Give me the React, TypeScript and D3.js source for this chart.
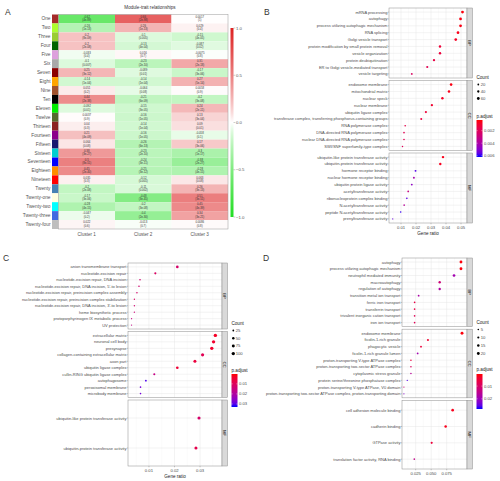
import React from 'react';
import * as d3 from 'd3';

const FONT = 'Liberation Sans, Arial, Helvetica, sans-serif';

// ---- A: module-trait heatmap ----
const modules = ['One', 'Two', 'Three', 'Four', 'Five', 'Six', 'Seven', 'Eight', 'Nine', 'Ten', 'Eleven', 'Twelve',
  'Thirteen', 'Fourteen', 'Fifteen', 'Sixteen', 'Seventeen', 'Eighteen', 'Nineteen', 'Twenty', 'Twenty-one',
  'Twenty-two', 'Twenty-three', 'Twenty-four'];
const moduleColors = ['#a52a2a', '#adff2f', '#9acd32', '#006400', '#dda0dd', '#a9a9a9', '#8b0000', '#ffa500',
  '#a0522d', '#000000', '#00ee00', '#556b2f', '#8b2323', '#8b008b', '#191970', '#00ced1', '#0000ff', '#ff8c00',
  '#ff0000', '#4682b4', '#ffffe0', '#00ffff', '#4169e1', '#bebebe'];
const clusters = ['Cluster 1', 'Cluster 2', 'Cluster 3'];
const corCluster1 = [-0.62, -0.26, 0.2, 0.2, -0.033, -0.1, 0.25, -0.14, 0.051, 0.44, -0.092, 0.0037, 0.04, 0.21,
  0.064, 0.38, 0.5, 0.45, 0.035, -0.2, -0.17, -0.28, -0.047, 0.022];
const corCluster2 = [0.66, 0.26, -0.1, -0.13, 0.016, -0.23, -0.089, -0.14, -0.064, -0.21, -0.15, -0.16, -0.14, -0.16,
  -0.26, -0.23, -0.24, -0.25, -0.12, -0.11, -0.48, -0.2, -0.4, -0.013];
const corCluster3 = [0.0017, 0.029, -0.15, -0.087, -0.0075, 0.31, -0.17, 0.27, 0.0058, -0.2, 0.24, 0.13, 0.09, -0.058,
  0.17, -0.3, -0.38, -0.28, 0.063, 0.26, 0.51, 0.45, 0.34, 0.0086];
const pCluster1 = ['(4e-89)', '(1e-13)', '(8e-09)', '(2e-08)', '(0.4)', '(0.007)', '(3e-12)', '(1e-04)', '(0.2)',
  '(2e-38)', '(0.01)', '(0.9)', '(0.3)', '(4e-09)', '(0.08)', '(3e-27)', '(8e-51)', '(2e-40)', '(0.3)', '(2e-08)',
  '(3e-06)', '(4e-15)', '(0.2)', '(0.6)'];
const pCluster2 = ['(2e-98)', '(1e-13)', '(0.005)', '(4e-04)', '(0.7)', '(2e-10)', '(0.01)', '(1e-04)', '(0.08)',
  '(6e-09)', '(3e-05)', '(1e-05)', '(1e-04)', '(1e-05)', '(6e-13)', '(2e-10)', '(3e-11)', '(3e-12)', '(0.001)',
  '(0.002)', '(3e-45)', '(3e-08)', '(2e-30)', '(0.7)'];
const pCluster3 = ['(1)', '(0.4)', '(4e-05)', '(0.02)', '(0.8)', '(2e-18)', '(3e-06)', '(5e-14)', '(0.9)', '(3e-08)',
  '(2e-11)', '(3e-04)', '(0.01)', '(0.1)', '(3e-06)', '(1e-17)', '(2e-27)', '(4e-15)', '(0.08)', '(3e-13)', '(3e-51)',
  '(4e-39)', '(3e-21)', '(0.8)'];
const heatTicks = [1, 0.5, 0, -0.5, -1];

// ---- B: GO enrichment ----
const bpTermsB = ['mRNA processing', 'autophagy', 'process utilizing autophagic mechanism', 'RNA splicing',
  'Golgi vesicle transport', 'protein modification by small protein removal', 'vesicle organization',
  'protein deubiquitination', 'ER to Golgi vesicle-mediated transport', 'vesicle targeting'];
const bpRatioB = [0.051, 0.0497, 0.0497, 0.048, 0.0465, 0.036, 0.036, 0.032, 0.0275, 0.0172];
const bpCountB = [62, 60, 60, 58, 56, 44, 44, 39, 33, 21];
const bpPadjB = [0.0004, 0.0005, 0.0005, 0.0006, 0.0008, 0.0012, 0.0013, 0.0015, 0.0018, 0.0022];
const ccTermsB = ['endosome membrane', 'mitochondrial matrix', 'nuclear speck', 'nuclear membrane',
  'ubiquitin ligase complex', 'transferase complex, transferring phosphorus-containing groups',
  'RNA polymerase complex', 'DNA-directed RNA polymerase complex', 'nuclear DNA-directed RNA polymerase complex',
  'SWI/SNF superfamily-type complex'];
const ccRatioB = [0.0434, 0.042, 0.0376, 0.0306, 0.0266, 0.0235, 0.0128, 0.012, 0.012, 0.011];
const ccCountB = [53, 51, 46, 37, 32, 29, 16, 15, 15, 13];
const ccPadjB = [0.0005, 0.0006, 0.0008, 0.001, 0.0012, 0.0014, 0.0016, 0.0018, 0.0018, 0.002];
const mfTermsB = ['ubiquitin-like protein transferase activity', 'ubiquitin-protein transferase activity',
  'hormone receptor binding', 'nuclear hormone receptor binding', 'ubiquitin protein ligase activity',
  'acetyltransferase activity', 'ribonucleoprotein complex binding', 'N-acetyltransferase activity',
  'peptide N-acetyltransferase activity', 'prenyltransferase activity'];
const mfRatioB = [0.038, 0.0362, 0.0197, 0.0186, 0.0172, 0.0148, 0.0139, 0.0121, 0.0098, 0.0045];
const mfCountB = [46, 44, 24, 23, 21, 18, 17, 15, 12, 5];
const mfPadjB = [0.0006, 0.0007, 0.0058, 0.0042, 0.0048, 0.003, 0.0056, 0.0036, 0.006, 0.0055];
const ticksB = [0.01, 0.02, 0.03, 0.04, 0.05];
const countLegendB = [20, 40, 60];
const padjLegendB = [0.002, 0.004, 0.006];

// ---- C ----
const bpTermsC = ['anion transmembrane transport', 'nucleotide-excision repair',
  'nucleotide-excision repair, DNA incision', "nucleotide-excision repair, DNA incision, 5'-to lesion",
  'nucleotide-excision repair, preincision complex assembly',
  'nucleotide-excision repair, preincision complex stabilization',
  "nucleotide-excision repair, DNA incision, 3'-to lesion", 'heme biosynthetic process',
  'protoporphyrinogen IX metabolic process', 'UV protection'];
const bpRatioC = [0.0211, 0.0125, 0.0065, 0.0061, 0.0053, 0.0043, 0.0043, 0.0043, 0.0032, 0.0032];
const bpCountC = [59, 35, 18, 17, 15, 12, 12, 12, 9, 9];
const bpPadjC = [0.012, 0.011, 0.013, 0.013, 0.012, 0.011, 0.013, 0.014, 0.016, 0.016];
const ccTermsC = ['extracellular matrix', 'neuronal cell body', 'presynapse', 'collagen-containing extracellular matrix',
  'axon part', 'ubiquitin ligase complex', 'cullin-RING ubiquitin ligase complex', 'autophagosome',
  'peroxisomal membrane', 'microbody membrane'];
const ccRatioC = [0.036, 0.0353, 0.0346, 0.031, 0.028, 0.0211, 0.0121, 0.0088, 0.0067, 0.0067];
const ccCountC = [101, 99, 97, 87, 78, 59, 34, 25, 19, 19];
const ccPadjC = [0.003, 0.004, 0.004, 0.009, 0.006, 0.005, 0.016, 0.031, 0.028, 0.028];
const mfTermsC = ['ubiquitin-like protein transferase activity', 'ubiquitin-protein transferase activity'];
const mfRatioC = [0.0296, 0.0284];
const mfCountC = [83, 80];
const mfPadjC = [0.012, 0.008];
const ticksC = [0.01, 0.02, 0.03];
const countLegendC = [25, 50, 75, 100];
const padjLegendC = [0.01, 0.02, 0.03];

// ---- D ----
const bpTermsD = ['autophagy', 'process utilizing autophagic mechanism', 'neutrophil mediated immunity',
  'macroautophagy', 'regulation of autophagy', 'transition metal ion transport', 'ferric iron transport',
  'transferrin transport', 'trivalent inorganic cation transport', 'iron ion transport'];
const bpRatioD = [0.098, 0.098, 0.0868, 0.0637, 0.0637, 0.0298, 0.0233, 0.0233, 0.0233, 0.0233];
const bpCountD = [20, 20, 18, 13, 13, 6, 5, 5, 5, 5];
const bpPadjD = [0.001, 0.001, 0.019, 0.012, 0.017, 0.018, 0.006, 0.006, 0.008, 0.008];
const ccTermsD = ['endosome membrane', 'ficolin-1-rich granule', 'phagocytic vesicle', 'ficolin-1-rich granule lumen',
  'proton-transporting V-type ATPase complex', 'proton-transporting two-sector ATPase complex',
  'cytoplasmic stress granule', 'protein serine/threonine phosphatase complex',
  'proton-transporting V-type ATPase, V0 domain',
  'proton-transporting two-sector ATPase complex, proton-transporting domain'];
const ccRatioD = [0.0997, 0.0448, 0.0336, 0.0282, 0.0174, 0.0174, 0.0174, 0.0115, 0.0061, 0.0061];
const ccCountD = [21, 9, 7, 6, 4, 4, 4, 3, 2, 2];
const ccPadjD = [0.001, 0.004, 0.005, 0.019, 0.005, 0.009, 0.016, 0.026, 0.012, 0.022];
const mfTermsD = ['cell adhesion molecule binding', 'cadherin binding', 'GTPase activity',
  'translation factor activity, RNA binding'];
const mfRatioD = [0.0846, 0.0733, 0.0508, 0.0228];
const mfCountD = [17, 15, 10, 5];
const mfPadjD = [0.002, 0.002, 0.005, 0.014];
const ticksD = [0.025, 0.05, 0.075];
const countLegendD = [5, 10, 15, 20];
const padjLegendD = [0.01, 0.02];

type Facet = { name: string; terms: string[]; ratio: number[]; count: number[]; padj: number[] };

const facetsB: Facet[] = [
  { name: 'BP', terms: bpTermsB, ratio: bpRatioB, count: bpCountB, padj: bpPadjB },
  { name: 'CC', terms: ccTermsB, ratio: ccRatioB, count: ccCountB, padj: ccPadjB },
  { name: 'MF', terms: mfTermsB, ratio: mfRatioB, count: mfCountB, padj: mfPadjB },
];
const facetsC: Facet[] = [
  { name: 'BP', terms: bpTermsC, ratio: bpRatioC, count: bpCountC, padj: bpPadjC },
  { name: 'CC', terms: ccTermsC, ratio: ccRatioC, count: ccCountC, padj: ccPadjC },
  { name: 'MF', terms: mfTermsC, ratio: mfRatioC, count: mfCountC, padj: mfPadjC },
];
const facetsD: Facet[] = [
  { name: 'BP', terms: bpTermsD, ratio: bpRatioD, count: bpCountD, padj: bpPadjD },
  { name: 'CC', terms: ccTermsD, ratio: ccRatioD, count: ccCountD, padj: ccPadjD },
  { name: 'MF', terms: mfTermsD, ratio: mfRatioD, count: mfCountD, padj: mfPadjD },
];

function Heatmap() {
  const x0 = 52, sw = 6.5, left = x0 + sw, right = 228, top = 14.5, bottom = 229;
  const cors = [corCluster1, corCluster2, corCluster3];
  const pvals = [pCluster1, pCluster2, pCluster3];
  const xs = d3.scaleBand().domain(clusters).range([left, right]);
  const ys = d3.scaleBand().domain(modules).range([top, bottom]);
  const color = d3.scaleDivergingPow(d3.piecewise(d3.interpolateRgb, ['#22dd22', '#ffffff', '#dd2222']))
    .exponent(0.8).domain([-1, 0, 1]);
  const barY = d3.scaleLinear().domain([1, -1]).range([28, 217]);

  return (
    <g>
      <text x={150} y={8.5} fontSize={4.6} textAnchor='middle' fill='#333'>Module-trait relationships</text>
      {modules.map((m, i) => (
        <g key={m}>
          <rect x={x0} y={ys(m)} width={sw} height={ys.bandwidth()} fill={moduleColors[i]} />
          <text x={x0 - 1.5} y={ys(m)! + ys.bandwidth() / 2} fontSize={4.8} textAnchor='end'
            dominantBaseline='central' fill='#555'>{m}</text>
          {clusters.map((c, j) => (
            <g key={c}>
              <rect x={xs(c)} y={ys(m)} width={xs.bandwidth()} height={ys.bandwidth()} fill={color(cors[j][i])} />
              <text x={xs(c)! + xs.bandwidth() / 2} y={ys(m)! + 3.3} fontSize={2.8} textAnchor='middle'
                fill='#333'>{cors[j][i]}</text>
              <text x={xs(c)! + xs.bandwidth() / 2} y={ys(m)! + 6.9} fontSize={2.8} textAnchor='middle'
                fill='#333'>{pvals[j][i]}</text>
            </g>
          ))}
        </g>
      ))}
      <rect x={left} y={top} width={right - left} height={bottom - top} fill='none' stroke='#999' strokeWidth={0.5} />
      {clusters.map(c => (
        <text key={c} x={xs(c)! + xs.bandwidth() / 2} y={236} fontSize={4.6} textAnchor='middle' fill='#555'>{c}</text>
      ))}
      <defs>
        <linearGradient id='heat-bar' x1='0' y1='0' x2='0' y2='1'>
          {d3.range(0, 1.0001, 0.05).map(t => (
            <stop key={t} offset={t} stopColor={color(1 - 2 * t)} />
          ))}
        </linearGradient>
      </defs>
      <rect x={230.5} y={barY(1)} width={3} height={barY(-1) - barY(1)} fill='url(#heat-bar)' />
      {heatTicks.map(v => (
        <g key={v}>
          <line x1={233.5} x2={235.3} y1={barY(v)} y2={barY(v)} stroke='#555' strokeWidth={0.3} />
          <text x={236} y={barY(v)} fontSize={4.3} dominantBaseline='central' fill='#555'>{d3.format('.1f')(v)}</text>
        </g>
      ))}
    </g>
  );
}

type DotCfg = {
  id: string; left: number; right: number; top: number; bottom: number; gap: number;
  xDomain: [number, number]; ticks: number[]; fmt: string; facets: Facet[];
  padjDomain: [number, number]; padjTicks: number[]; sizeDomain: [number, number]; sizeRange: [number, number];
  countTicks: number[]; lx: number; countY: number; countStep: number; padjY: number; barTop: number;
  barBottom: number; showTitle: boolean;
};

function DotPanel({ cfg }: { cfg: DotCfg }) {
  const { left, right, top, bottom, gap, facets } = cfg;
  const x = d3.scaleLinear().domain(cfg.xDomain).range([left, right]);
  const color = d3.scaleSequential(d3.interpolateLab('#ff0000', '#0000ff')).domain(cfg.padjDomain);
  const r = d3.scaleSqrt().domain(cfg.sizeDomain).range(cfg.sizeRange);
  const fh = (bottom - top - gap * (facets.length - 1)) / facets.length;
  const step = cfg.ticks[1] - cfg.ticks[0];
  const minor = d3.range(cfg.ticks[0] - step / 2, cfg.xDomain[1], step).filter(v => v > cfg.xDomain[0]);
  const barY = d3.scaleLinear().domain(cfg.padjDomain).range([cfg.barTop, cfg.barBottom]);
  const fmt = d3.format(cfg.fmt);

  return (
    <g>
      {facets.map((f, fi) => {
        const y0 = top + fi * (fh + gap);
        const y = d3.scalePoint().domain(f.terms).range([y0, y0 + fh]).padding(0.6);
        return (
          <g key={f.name}>
            <rect x={left} y={y0} width={right - left} height={fh} fill='#fff' />
            {minor.map(v => (
              <line key={'m' + v} x1={x(v)} x2={x(v)} y1={y0} y2={y0 + fh} stroke='#f2f2f2' strokeWidth={0.3} />
            ))}
            {cfg.ticks.map(v => (
              <line key={'t' + v} x1={x(v)} x2={x(v)} y1={y0} y2={y0 + fh} stroke='#e4e4e4' strokeWidth={0.45} />
            ))}
            {f.terms.map(t => (
              <line key={'h' + t} x1={left} x2={right} y1={y(t)} y2={y(t)} stroke='#e4e4e4' strokeWidth={0.45} />
            ))}
            {f.terms.map((t, i) => (
              <circle key={'c' + t} cx={x(f.ratio[i])} cy={y(t)} r={r(f.count[i])} fill={color(f.padj[i])} />
            ))}
            <rect x={left} y={y0} width={right - left} height={fh} fill='none' stroke='#8c8c8c' strokeWidth={0.5} />
            <rect x={right} y={y0} width={5.5} height={fh} fill='#d9d9d9' stroke='#8c8c8c' strokeWidth={0.5} />
            <text transform={`translate(${right + 2.75},${y0 + fh / 2}) rotate(90)`} fontSize={4.3}
              textAnchor='middle' dominantBaseline='central' fill='#1a1a1a'>{f.name}</text>
            {f.terms.map(t => (
              <g key={'l' + t}>
                <line x1={left - 1.2} x2={left} y1={y(t)} y2={y(t)} stroke='#555' strokeWidth={0.3} />
                <text x={left - 1.6} y={y(t)} fontSize={4} textAnchor='end' dominantBaseline='central'
                  fill='#4d4d4d'>{t}</text>
              </g>
            ))}
          </g>
        );
      })}
      {cfg.ticks.map(v => (
        <g key={'x' + v}>
          <line x1={x(v)} x2={x(v)} y1={bottom} y2={bottom + 1.3} stroke='#555' strokeWidth={0.3} />
          <text x={x(v)} y={bottom + 5.6} fontSize={4.2} textAnchor='middle' fill='#4d4d4d'>{fmt(v)}</text>
        </g>
      ))}
      {cfg.showTitle && (
        <text x={(left + right) / 2} y={bottom + 12} fontSize={4.6} textAnchor='middle' fill='#1a1a1a'>Gene ratio</text>
      )}

      <text x={cfg.lx} y={cfg.countY} fontSize={4.6} fill='#1a1a1a'>Count</text>
      {cfg.countTicks.map((c, i) => {
        const cy = cfg.countY + 5.5 + i * cfg.countStep;
        return (
          <g key={'n' + c}>
            <circle cx={cfg.lx + 1.8} cy={cy} r={r(c)} fill='#000' />
            <text x={cfg.lx + 4.2} y={cy} fontSize={4.2} dominantBaseline='central' fill='#4d4d4d'>{c}</text>
          </g>
        );
      })}

      <text x={cfg.lx} y={cfg.padjY} fontSize={4.6} fill='#1a1a1a'>p.adjust</text>
      <defs>
        <linearGradient id={cfg.id + '-bar'} x1='0' y1='0' x2='0' y2='1'>
          {d3.range(0, 1.0001, 0.1).map(t => (
            <stop key={t} offset={t} stopColor={color(cfg.padjDomain[0] + t * (cfg.padjDomain[1] - cfg.padjDomain[0]))} />
          ))}
        </linearGradient>
      </defs>
      <rect x={cfg.lx} y={cfg.barTop} width={6} height={cfg.barBottom - cfg.barTop} fill={`url(#${cfg.id}-bar)`} />
      {cfg.padjTicks.map(v => (
        <g key={'p' + v}>
          <line x1={cfg.lx} x2={cfg.lx + 1.2} y1={barY(v)} y2={barY(v)} stroke='#fff' strokeWidth={0.4} />
          <line x1={cfg.lx + 4.8} x2={cfg.lx + 6} y1={barY(v)} y2={barY(v)} stroke='#fff' strokeWidth={0.4} />
          <text x={cfg.lx + 7.5} y={barY(v)} fontSize={4.2} dominantBaseline='central' fill='#4d4d4d'>{v}</text>
        </g>
      ))}
    </g>
  );
}

const cfgB: DotCfg = {
  id: 'b', left: 389, right: 467, top: 8, bottom: 223, gap: 2.5, xDomain: [0.002, 0.054], ticks: ticksB, fmt: '.2f',
  facets: facetsB, padjDomain: [0.0003, 0.0062], padjTicks: padjLegendB, sizeDomain: [5, 62], sizeRange: [0.55, 1.4],
  countTicks: countLegendB, lx: 476.5, countY: 79, countStep: 7, padjY: 118, barTop: 120, barBottom: 157, showTitle: true,
};
const cfgC: DotCfg = {
  id: 'c', left: 128, right: 222, top: 263, bottom: 466, gap: 2.5, xDomain: [0.0018, 0.0386], ticks: ticksC, fmt: '.2f',
  facets: facetsC, padjDomain: [0.0002, 0.033], padjTicks: padjLegendC, sizeDomain: [9, 101], sizeRange: [0.6, 1.7],
  countTicks: countLegendC, lx: 231.5, countY: 325, countStep: 7.7, padjY: 372, barTop: 374, barBottom: 407,
  showTitle: true,
};
// panel D's axis title falls below the bottom edge of the figure
const cfgD: DotCfg = {
  id: 'd', left: 402, right: 467, top: 258, bottom: 469, gap: 2.5, xDomain: [0.003, 0.1077], ticks: ticksD, fmt: '.3f',
  facets: facetsD, padjDomain: [0.0005, 0.028], padjTicks: padjLegendD, sizeDomain: [2, 21], sizeRange: [0.6, 1.45],
  countTicks: countLegendD, lx: 476.5, countY: 324, countStep: 8, padjY: 371, barTop: 374, barBottom: 409,
  showTitle: false,
};

export default function App() {
  return (
    <svg width={500} height={481} viewBox='0 0 500 481' fontFamily={FONT}
      style={{ position: 'absolute', left: 0, top: 0, background: '#fff' }}>
      <rect width={500} height={481} fill='#fff' />
      <text x={5} y={15} fontSize={8.5} fill='#333'>A</text>
      <text x={264} y={14.5} fontSize={8.5} fill='#333'>B</text>
      <text x={3} y={261} fontSize={8.5} fill='#333'>C</text>
      <text x={263} y={261} fontSize={8.5} fill='#333'>D</text>
      <Heatmap />
      <DotPanel cfg={cfgB} />
      <DotPanel cfg={cfgC} />
      <DotPanel cfg={cfgD} />
    </svg>
  );
}
